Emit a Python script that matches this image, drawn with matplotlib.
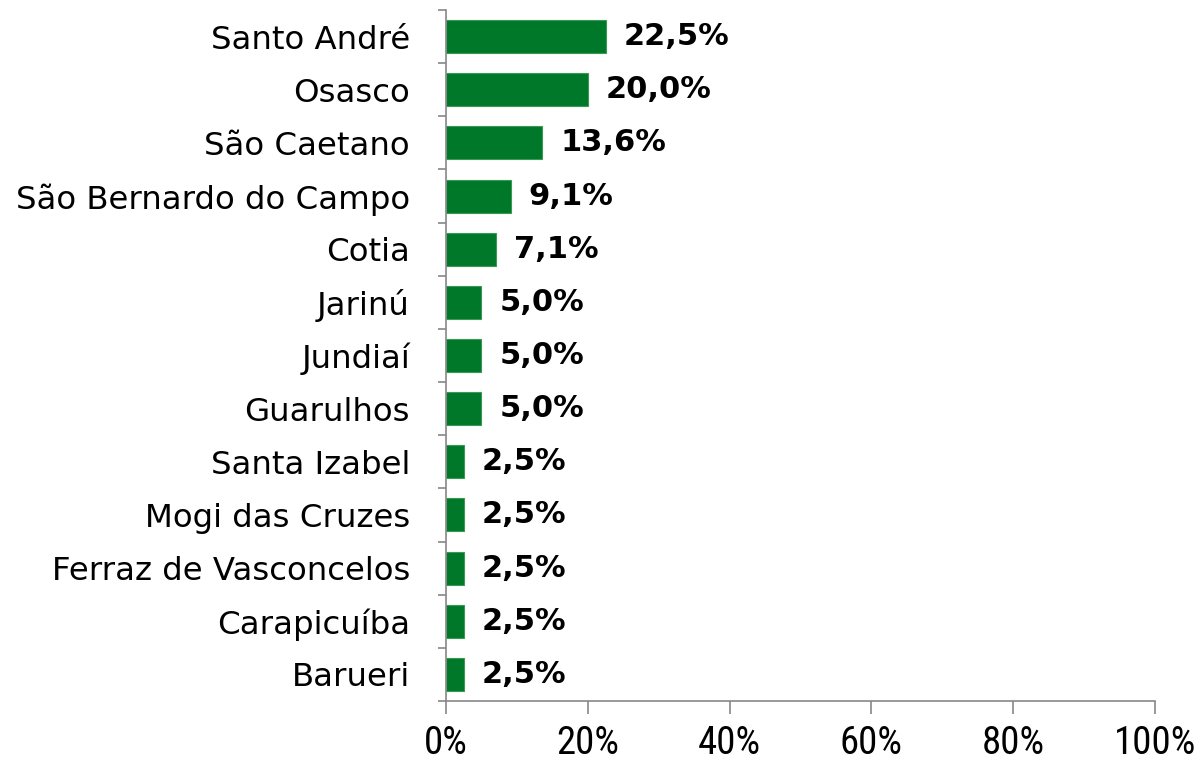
import matplotlib
matplotlib.use("Agg")
import matplotlib.pyplot as plt
from matplotlib.ticker import FixedLocator, NullFormatter

categories = ["Santo André", "Osasco", "São Caetano", "São Bernardo do Campo", "Cotia",
              "Jarinú", "Jundiaí", "Guarulhos", "Santa Izabel", "Mogi das Cruzes",
              "Ferraz de Vasconcelos", "Carapicuíba", "Barueri"]
values = [22.5, 20.0, 13.6, 9.1, 7.1, 5.0, 5.0, 5.0, 2.5, 2.5, 2.5, 2.5, 2.5]
xticks = [0, 20, 40, 60, 80, 100]
xtick_labels = ["0%", "20%", "40%", "60%", "80%", "100%"]

plt.rcParams['font.family'] = ['DejaVu Sans']

fig = plt.figure(figsize=(12, 7.63), dpi=100)
ax = fig.add_axes([446/1200, 1 - 701/763, (1155 - 446)/1200, (701 - 10)/763])

n = len(categories)
ypos = list(range(n))[::-1]
ax.barh(ypos, values, height=0.62, color="#00782A", edgecolor="#3a9a55", linewidth=0.8)

ax.set_xlim(0, 100)
ax.set_ylim(-0.5, n - 0.5)

for y, v in zip(ypos, values):
    ax.text(v + 2.5, y, f"{v:.1f}%".replace(".", ","), va="center", ha="left",
            fontsize=22, fontweight="bold", color="black")

ax.set_yticks(ypos)
ax.set_yticklabels(categories, fontsize=23.3)
ax.tick_params(axis="y", length=0, pad=26)
ax.yaxis.set_minor_locator(FixedLocator([i - 0.5 for i in range(n + 1)]))
ax.yaxis.set_minor_formatter(NullFormatter())
ax.tick_params(axis="y", which="minor", length=6, width=1.2, color="#888888", direction="out")

ax.set_xticks(xticks)
ax.set_xticklabels(xtick_labels, fontsize=28, family=["Roboto Condensed", "Liberation Sans Narrow", "Roboto"])
ax.tick_params(axis="x", length=9, width=1.2, color="#888888", direction="out", pad=8)

for s in ["top", "right"]:
    ax.spines[s].set_visible(False)
for s in ["left", "bottom"]:
    ax.spines[s].set_color("#888888")
    ax.spines[s].set_linewidth(1.2)

fig.savefig("out.png", dpi=100)
